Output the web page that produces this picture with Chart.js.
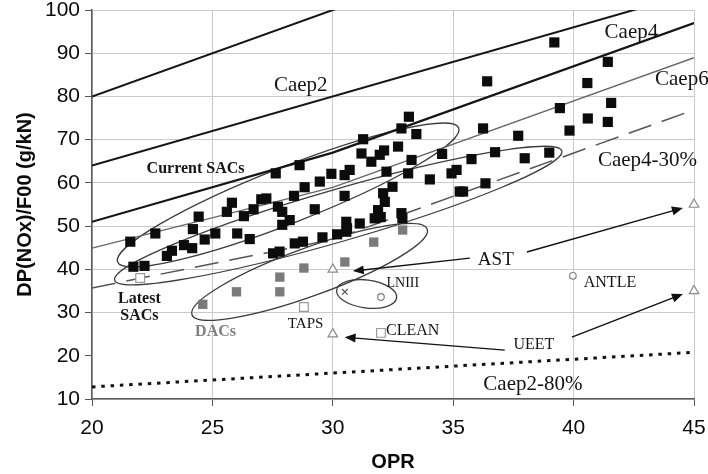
<!DOCTYPE html>
<html>
<head>
<meta charset="utf-8">
<script src="https://cdn.jsdelivr.net/npm/chart.js@4.4.1/dist/chart.umd.min.js"></script>
<style>
    html, body { margin: 0; padding: 0; background: #fff; }
</style>
</head>
<body>
<canvas id="graph" width="708" height="474"></canvas>
<script>
// regulatory lines, pairs of [OPR, Dp/Foo]
const caep1 = [[20, 80], [45, 130]];
const caep2 = [[20, 64], [45, 104]];
const caep4 = [[20, 51], [30, 67], [45, 97]];
const caep6 = [[20, 44.88], [30, 58.96], [45, 88.96]];
const caep4Minus30 = [[20, 35.7], [30, 46.9], [45, 76.9]];
const caep2Minus80 = [[20, 12.8], [45, 20.8]];

// single annular combustors in service
const sacPoints = [
    [21.59, 46.4], [21.72, 40.6], [22.18, 40.8], [22.63, 48.3], [23.11, 43.1], [23.32, 44.3],
    [23.82, 45.6], [24.16, 44.9], [24.19, 49.3], [24.43, 52.2], [24.68, 46.9], [25.12, 48.3],
    [25.6, 53.3], [25.81, 55.4], [26.03, 48.3], [26.31, 52.3], [26.55, 47.0], [26.71, 53.9],
    [27.03, 56.2], [27.24, 56.4], [27.52, 43.7], [27.79, 44.1], [27.63, 62.2], [27.72, 54.5],
    [27.9, 53.3], [28.21, 51.4], [27.9, 50.3], [28.39, 57.0], [28.42, 46.0], [28.62, 64.1],
    [28.76, 46.4], [28.83, 59.0], [29.25, 53.9], [29.46, 60.3], [29.57, 47.4], [29.94, 62.1],
    [30.18, 48.1], [30.49, 61.8], [30.49, 57.0], [30.56, 48.7], [30.59, 49.5], [30.56, 51.0],
    [30.7, 63.0], [31.12, 50.6], [31.19, 66.8], [31.26, 70.1], [31.6, 64.9], [31.74, 51.8],
    [31.88, 53.7], [31.99, 52.1], [31.95, 66.5], [32.13, 67.5], [32.09, 57.6], [32.16, 55.6],
    [32.23, 62.6], [32.48, 59.1], [32.71, 68.4], [32.85, 72.6], [32.85, 53.0], [32.89, 51.8],
    [33.16, 75.3], [33.13, 62.2], [33.27, 65.3], [33.47, 71.3], [34.03, 60.8], [34.54, 66.7],
    [34.93, 62.2], [35.14, 63.0], [35.27, 58.0], [35.41, 58.0], [35.76, 65.5], [36.24, 72.6],
    [36.34, 59.9], [36.41, 83.5], [36.74, 67.1], [37.7, 70.9], [37.97, 65.7], [38.99, 67.0],
    [39.2, 92.5], [39.43, 77.3], [39.83, 72.1], [40.57, 83.1], [40.59, 74.9], [41.42, 88.0],
    [41.56, 78.5], [41.42, 74.1]
];

// double annular combustors
const dacPoints = [
    [24.6, 31.9], [26.0, 34.8], [27.8, 34.8], [27.8, 38.2], [28.8, 40.3], [30.5, 41.7],
    [31.7, 46.3], [32.9, 49.1]
];

// research programme targets and demonstrators
const programTargets = [[30, 40], [30, 25], [45, 55], [45, 35]];
const openSquarePoints = [[22, 38], [28.8, 31.3], [32.0, 25.3]];
const smallCirclePoints = [[32.0, 33.6], [39.97, 38.5]];
const crossPoints = [[30.5, 34.8]];

const xTicks = [20, 25, 30, 35, 40, 45];
const yTicks = [10, 20, 30, 40, 50, 60, 70, 80, 90, 100];

// outlines round the combustor families: two tips in data units + half width
const ellipses = [
    { from: [21.06, 41.7], to: [35.23, 72.7], halfWidth: 28 },
    { from: [20.94, 37.5], to: [39.51, 67.4], halfWidth: 26 },
    { from: [24.15, 29.5], to: [33.92, 49.3], halfWidth: 24 },
    { from: [30.16, 35.2], to: [32.65, 33.4], halfWidth: 14 }
];

const arrows = [
    { from: [35.69, 42.6], to: [30.83, 39.6] },
    { from: [38.06, 44.0], to: [44.54, 54.2] },
    { from: [37.14, 21.3], to: [30.49, 24.3] },
    { from: [39.93, 24.3], to: [44.54, 34.3] }
];

const notes = [
    { text: 'Caep2', at: [28.67, 82.65], size: 21 },
    { text: 'Caep4', at: [42.4, 94.7], size: 21 },
    { text: 'Caep6', at: [43.38, 83.9], size: 21, align: 'left' },
    { text: 'Caep4-30%', at: [41.01, 65.07], size: 21, align: 'left' },
    { text: 'Caep2-80%', at: [38.31, 13.47], size: 21 },
    { text: 'Current SACs', at: [24.3, 63.2], size: 16, bold: true },
    { text: 'Latest', at: [21.97, 33.1], size: 16, bold: true },
    { text: 'SACs', at: [21.97, 29.2], size: 16, bold: true },
    { text: 'DACs', at: [25.13, 25.5], size: 16, bold: true, color: '#808080' },
    { text: 'TAPS', at: [28.87, 27.35], size: 15 },
    { text: 'LNIII', at: [32.91, 36.8], size: 14 },
    { text: 'CLEAN', at: [33.32, 25.7], size: 16 },
    { text: 'AST', at: [36.77, 42.2], size: 19 },
    { text: 'ANTLE', at: [41.51, 36.8], size: 16 },
    { text: 'UEET', at: [38.35, 22.5], size: 16 }
];

function toXY(list) {
    return list.map(p => ({ x: p[0], y: p[1] }));
}

function limitLine(points, width, color, dash) {
    return {
        data: toXY(points),
        showLine: true,
        pointRadius: 0,
        borderColor: color,
        borderWidth: width,
        borderDash: dash || [],
        fill: false
    };
}

const overlay = {
    id: 'overlay',
    beforeDatasetsDraw(chart) {
        const { ctx, chartArea } = chart;
        const xs = chart.scales.x, ys = chart.scales.y;
        ctx.save();
        ctx.beginPath();
        ctx.rect(chartArea.left, chartArea.top, chartArea.width, chartArea.height);
        ctx.clip();
        ctx.strokeStyle = '#3c3c3c';
        ctx.lineWidth = 1.3;
        ellipses.forEach(e => {
            const x1 = xs.getPixelForValue(e.from[0]), y1 = ys.getPixelForValue(e.from[1]);
            const x2 = xs.getPixelForValue(e.to[0]), y2 = ys.getPixelForValue(e.to[1]);
            ctx.beginPath();
            ctx.ellipse((x1 + x2) / 2, (y1 + y2) / 2, Math.hypot(x2 - x1, y2 - y1) / 2,
                e.halfWidth, Math.atan2(y2 - y1, x2 - x1), 0, Math.PI * 2);
            ctx.stroke();
        });
        ctx.restore();
    },
    afterDatasetsDraw(chart) {
        const { ctx } = chart;
        const xs = chart.scales.x, ys = chart.scales.y;
        ctx.save();
        // arrows
        ctx.strokeStyle = '#111';
        ctx.fillStyle = '#111';
        ctx.lineWidth = 1.4;
        arrows.forEach(a => {
            const x1 = xs.getPixelForValue(a.from[0]), y1 = ys.getPixelForValue(a.from[1]);
            const x2 = xs.getPixelForValue(a.to[0]), y2 = ys.getPixelForValue(a.to[1]);
            const ang = Math.atan2(y2 - y1, x2 - x1);
            ctx.beginPath();
            ctx.moveTo(x1, y1);
            ctx.lineTo(x2 - 8 * Math.cos(ang), y2 - 8 * Math.sin(ang));
            ctx.stroke();
            ctx.beginPath();
            ctx.moveTo(x2, y2);
            ctx.lineTo(x2 - 11 * Math.cos(ang) + 4.5 * Math.sin(ang), y2 - 11 * Math.sin(ang) - 4.5 * Math.cos(ang));
            ctx.lineTo(x2 - 11 * Math.cos(ang) - 4.5 * Math.sin(ang), y2 - 11 * Math.sin(ang) + 4.5 * Math.cos(ang));
            ctx.closePath();
            ctx.fill();
        });
        // text labels
        ctx.textBaseline = 'middle';
        notes.forEach(n => {
            ctx.font = (n.bold ? 'bold ' : '') + n.size + 'px "Liberation Serif", "Times New Roman", serif';
            ctx.fillStyle = n.color || '#141414';
            ctx.textAlign = n.align || 'center';
            ctx.fillText(n.text, xs.getPixelForValue(n.at[0]), ys.getPixelForValue(n.at[1]));
        });
        ctx.restore();
    }
};

const whiteBg = {
    id: 'whiteBg',
    beforeDraw(chart) {
        const ctx = chart.ctx;
        ctx.save();
        ctx.fillStyle = '#fff';
        ctx.fillRect(0, 0, chart.width, chart.height);
        ctx.restore();
    }
};

const ctx = document.getElementById('graph').getContext('2d');
const noxChart = new Chart(ctx, {
    type: 'scatter',
    data: {
        datasets: [
            {
                label: 'SACs',
                data: toXY(sacPoints),
                pointStyle: 'rect',
                pointRadius: 7.2,
                backgroundColor: '#0c0c0c',
                borderColor: '#0c0c0c',
                borderWidth: 0
            },
            {
                label: 'DACs',
                data: toXY(dacPoints),
                pointStyle: 'rect',
                pointRadius: 6.6,
                backgroundColor: '#7b7b7b',
                borderColor: '#7b7b7b',
                borderWidth: 0
            },
            {
                label: 'targets',
                data: toXY(programTargets),
                pointStyle: 'triangle',
                pointRadius: 5.5,
                backgroundColor: '#fff',
                borderColor: '#8a8a8a',
                borderWidth: 1.2,
                clip: false
            },
            {
                label: 'demonstrators',
                data: toXY(openSquarePoints),
                pointStyle: 'rect',
                pointRadius: 6.2,
                backgroundColor: '#fff',
                borderColor: '#9a9a9a',
                borderWidth: 1.2
            },
            {
                label: 'small',
                data: toXY(smallCirclePoints),
                pointStyle: 'circle',
                pointRadius: 3.3,
                backgroundColor: '#fff',
                borderColor: '#808080',
                borderWidth: 1.2
            },
            {
                label: 'cross',
                data: toXY(crossPoints),
                pointStyle: 'crossRot',
                pointRadius: 4,
                borderColor: '#555',
                borderWidth: 1.2
            },
            limitLine(caep1, 2, '#151515'),
            limitLine(caep2, 2, '#151515'),
            limitLine(caep4, 2.2, '#151515'),
            limitLine(caep6, 1.3, '#666'),
            limitLine(caep4Minus30, 1.5, '#555', [24, 11]),
            Object.assign(limitLine(caep2Minus80, 3, '#111', [3.5, 5.8]), { borderCapStyle: 'butt' })
        ]
    },
    options: {
        responsive: false,
        animation: false,
        events: [],
        layout: { padding: { top: 10, right: 14, bottom: 0, left: 0 } },
        plugins: {
            legend: { display: false },
            tooltip: { enabled: false }
        },
        scales: {
            x: {
                type: 'linear',
                min: 20,
                max: 45,
                afterBuildTicks: s => { s.ticks = xTicks.map(v => ({ value: v })); },
                afterFit: s => { s.height = 75; s.paddingLeft = 0; s.paddingRight = 0; },
                grid: { color: '#cdc9c9', lineWidth: 1, tickLength: 7, tickColor: '#555' },
                border: { color: '#5a5a5a', width: 1.5 },
                ticks: {
                    padding: 10,
                    color: '#0a0a0a',
                    font: { family: '"Liberation Sans", Arial, sans-serif', size: 21 }
                },
                title: {
                    display: true,
                    text: 'OPR',
                    color: '#0a0a0a',
                    padding: { top: 0, bottom: 0 },
                    font: { family: '"Liberation Sans", Arial, sans-serif', size: 20, weight: 'bold' }
                }
            },
            y: {
                type: 'linear',
                min: 10,
                max: 100,
                afterBuildTicks: s => { s.ticks = yTicks.map(v => ({ value: v })); },
                afterFit: s => { s.width = 92; s.paddingTop = 0; s.paddingBottom = 0; },
                grid: {
                    color: c => (c.tick && c.tick.value === 20 ? 'rgba(0,0,0,0)' : '#cdc9c9'),
                    lineWidth: 1,
                    tickLength: 7,
                    tickColor: '#555'
                },
                border: { color: '#5a5a5a', width: 1.5 },
                ticks: {
                    padding: 5,
                    color: '#0a0a0a',
                    font: { family: '"Liberation Sans", Arial, sans-serif', size: 21 }
                },
                title: {
                    display: true,
                    text: 'DP(NOx)/F00 (g/kN)',
                    color: '#0a0a0a',
                    padding: { top: 13, bottom: 0 },
                    font: { family: '"Liberation Sans", Arial, sans-serif', size: 20, weight: 'bold' }
                }
            }
        }
    },
    plugins: [whiteBg, overlay]
});
</script>
</body>
</html>
